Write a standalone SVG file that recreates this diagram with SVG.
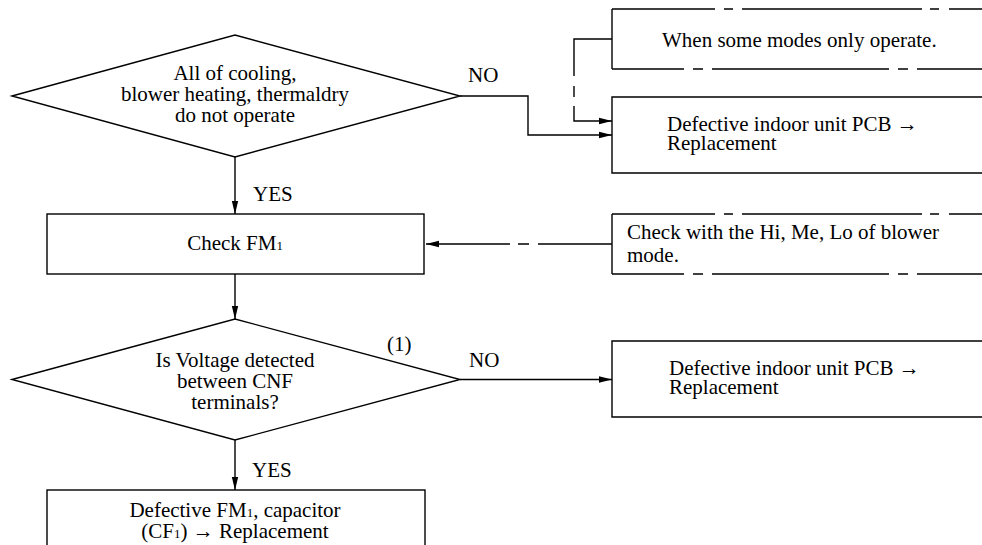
<svg xmlns="http://www.w3.org/2000/svg" width="982" height="545" viewBox="0 0 982 545">
<style>
.s{fill:none;stroke:#000;stroke-width:1.4}
.t{font-family:"Liberation Serif","Times New Roman",serif;font-size:21px;fill:#000}
.m{text-anchor:middle}
.sub{font-size:13px}
.dt{stroke-dasharray:103 9 9 9 180 8 9 10 100}
.db{stroke-dasharray:72 9 10 9 177 9 10 9 100}
</style>
<defs>
<marker id="a" markerWidth="14" markerHeight="8" refX="13" refY="4" orient="auto" markerUnits="userSpaceOnUse"><path d="M0,0.8 L13,4 L0,7.2 z" fill="#000"/></marker>
</defs>
<rect width="982" height="545" fill="#fff"/>
<g id="d1">
<polygon class="s" points="12,96 235,35 460,96 235,157"/>
<text class="t m"><tspan x="235" y="80">All of cooling,</tspan><tspan x="235" y="101">blower heating, thermaldry</tspan><tspan x="235" y="122">do not operate</tspan></text>
</g>
<g id="b1">
<line class="s" x1="612" y1="9" x2="612" y2="69"/>
<line class="s dt" x1="612" y1="9" x2="982" y2="9"/>
<line class="s db" x1="612" y1="69" x2="982" y2="69"/>
<text class="t" x="662" y="47">When some modes only operate.</text>
</g>
<g id="b2">
<path class="s" d="M982,97 H612 V173 H982"/>
<text class="t"><tspan x="667" y="131">Defective indoor unit PCB →</tspan><tspan x="667" y="150">Replacement</tspan></text>
</g>
<g id="c1">
<rect class="s" x="47" y="214" width="377" height="60"/>
<text class="t m" x="235" y="250">Check FM<tspan class="sub">1</tspan></text>
</g>
<g id="b3">
<line class="s" x1="612" y1="214" x2="612" y2="274"/>
<line class="s dt" x1="612" y1="214" x2="982" y2="214"/>
<line class="s db" x1="612" y1="274" x2="982" y2="274"/>
<text class="t"><tspan x="627" y="239">Check with the Hi, Me, Lo of blower</tspan><tspan x="627" y="262">mode.</tspan></text>
</g>
<g id="d2">
<polygon class="s" points="12,379.5 235,319 460,379.5 235,440"/>
<text class="t m"><tspan x="235" y="367">Is Voltage detected</tspan><tspan x="235" y="388">between CNF</tspan><tspan x="235" y="409">terminals?</tspan></text>
</g>
<g id="b4">
<path class="s" d="M982,341 H612 V417 H982"/>
<text class="t"><tspan x="669" y="375">Defective indoor unit PCB →</tspan><tspan x="669" y="394">Replacement</tspan></text>
</g>
<g id="b5">
<rect class="s" x="47" y="490" width="378" height="80"/>
<text class="t m"><tspan x="235" y="517">Defective FM<tspan class="sub">1</tspan>, capacitor</tspan><tspan x="235" y="538">(CF<tspan class="sub">1</tspan>) → Replacement</tspan></text>
</g>
<g id="connectors">
<path class="s" d="M235,157 V214" marker-end="url(#a)"/>
<path class="s" d="M460,96 H528 V135 H612" marker-end="url(#a)"/>
<path class="s" d="M612,39 H574 V121 H612" style="stroke-dasharray:75 10 11 9 500" marker-end="url(#a)"/>
<path class="s" d="M612,244 H426" style="stroke-dasharray:74 9 11 8 200" marker-end="url(#a)"/>
<path class="s" d="M235,274 V319" marker-end="url(#a)"/>
<path class="s" d="M460,379.5 H612" marker-end="url(#a)"/>
<path class="s" d="M235,440 V490" marker-end="url(#a)"/>
<text class="t" x="468" y="82">NO</text>
<text class="t" x="253" y="201">YES</text>
<text class="t" x="387" y="351">(1)</text>
<text class="t" x="469" y="367">NO</text>
<text class="t" x="252" y="477">YES</text>
</g>
</svg>
